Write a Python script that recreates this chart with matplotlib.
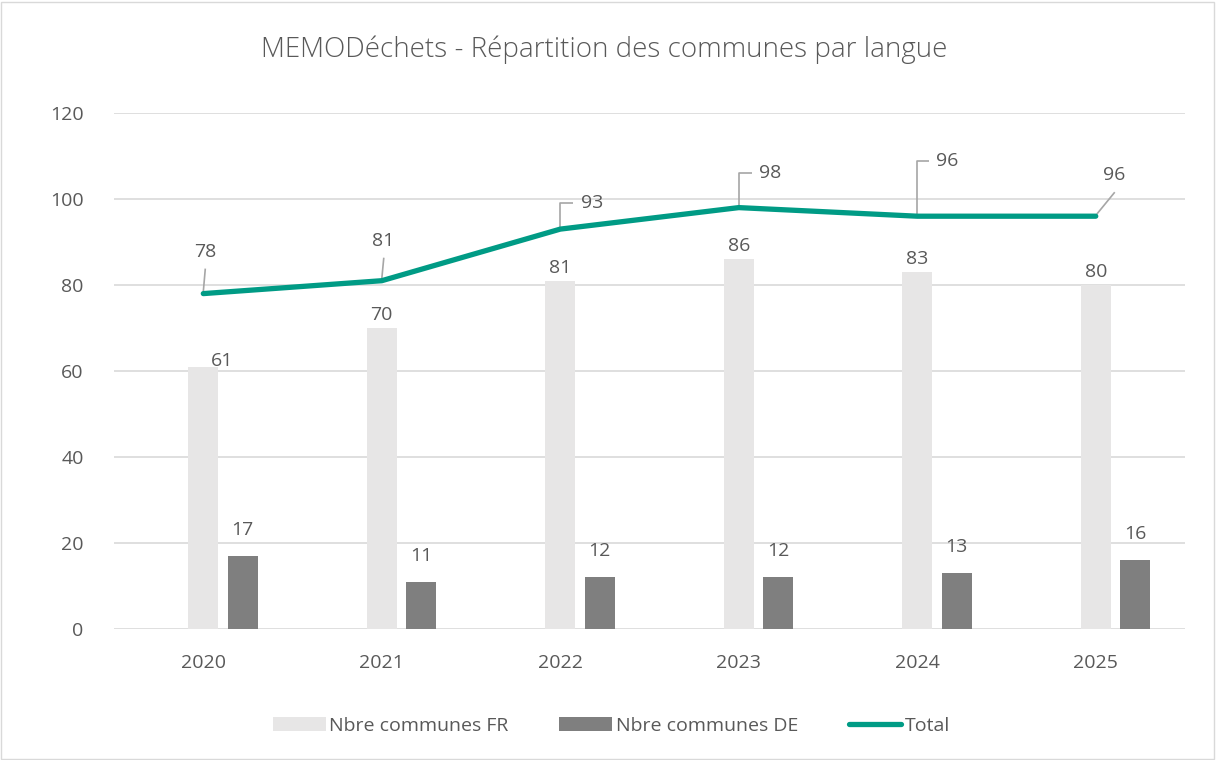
import matplotlib.pyplot as plt
from matplotlib.patches import Rectangle
import numpy as np

plt.rcParams['font.family'] = ['Open Sans', 'DejaVu Sans']

years = ['2020', '2021', '2022', '2023', '2024', '2025']
communes_fr = [61, 70, 81, 86, 83, 80]
communes_de = [17, 11, 12, 12, 13, 16]
total = [78, 81, 93, 98, 96, 96]

text_color = '#595959'
fr_color = '#E7E6E6'
de_color = '#7F7F7F'
line_color = '#009B85'
grid_color = '#D9D9D9'
leader_color = '#A6A6A6'

fig = plt.figure(figsize=(12.16, 7.6), dpi=100)
ax = fig.add_axes([0.0938, 0.1724, 0.8807, 0.6789])

x = np.arange(len(years))
bar_w = 0.168
de_shift = 0.221

bars_fr = ax.bar(x, communes_fr, bar_w, color=fr_color, label='Nbre communes FR', zorder=2)
bars_de = ax.bar(x + de_shift, communes_de, bar_w, color=de_color, label='Nbre communes DE', zorder=2)
line_total, = ax.plot(x, total, color=line_color, lw=3.8, solid_capstyle='round',
                      label='Total', zorder=3)

ax.set_xlim(-0.5, len(years) - 0.5)
ax.set_ylim(0, 120)
ax.set_yticks(range(0, 121, 20))
ax.set_xticks(x)
ax.set_xticklabels(years)
ax.grid(axis='y', color=grid_color, lw=1.2, zorder=0)
ax.set_axisbelow(True)
for s in ax.spines.values():
    s.set_visible(False)
ax.tick_params(axis='both', length=0, labelsize=14, labelcolor=text_color)
ax.tick_params(axis='y', pad=22)
ax.tick_params(axis='x', pad=18)

# data labels for the bars
fr_offsets = [(19, 6), (0, 13), (0, 13), (0, 13), (0, 13), (0, 13)]
for xi, v, off in zip(x, communes_fr, fr_offsets):
    ax.annotate(str(v), (xi, v), xytext=off, textcoords='offset pixels',
                ha='center', va='center', fontsize=14, color=text_color)
for xi, v in zip(x + de_shift, communes_de):
    ax.annotate(str(v), (xi, v), xytext=(0, 26), textcoords='offset pixels',
                ha='center', va='center', fontsize=14, color=text_color)

# data labels for the total line
tot_offsets = [(2, 42), (1, 40), (32, 26), (31, 35), (30, 55), (18, 41)]
for xi, v, off in zip(x, total, tot_offsets):
    ax.annotate(str(v), (xi, v), xytext=off, textcoords='offset pixels',
                ha='center', va='center', fontsize=14, color=text_color, zorder=4)

# leader lines (pixel offsets from the data point)
leaders = [
    [(0, 2), (2, 25)],
    [(0, 2), (2, 23)],
    [(0, 2), (0, 26), (13, 26)],
    [(0, 2), (0, 35), (13, 35)],
    [(0, 2), (0, 55), (12, 55)],
    [(1, 2), (19, 24)],
]
inv = ax.transData.inverted()
for xi, v, path in zip(x, total, leaders):
    px, py = ax.transData.transform((xi, v))
    pts = inv.transform([(px + dx, py + dy) for dx, dy in path])
    ax.plot(pts[:, 0], pts[:, 1], color=leader_color, lw=1.2, zorder=2.5,
            solid_capstyle='butt')

fig.text(0.497, 0.935, 'MEMODéchets - Répartition des communes par langue',
         ha='center', va='center', fontsize=20, color=text_color, fontweight='light')

fig.legend(handles=[bars_fr, bars_de, line_total], loc='center',
           bbox_to_anchor=(0.503, 0.045), ncol=3, frameon=False, fontsize=14,
           labelcolor=text_color, handlelength=2.7, handletextpad=0.2,
           columnspacing=2.6)

fig.patches.append(Rectangle((0.001, 0.001), 0.997, 0.997, transform=fig.transFigure,
                             fill=False, edgecolor='#D9D9D9', lw=1))

fig.savefig('out.png', dpi=100)
